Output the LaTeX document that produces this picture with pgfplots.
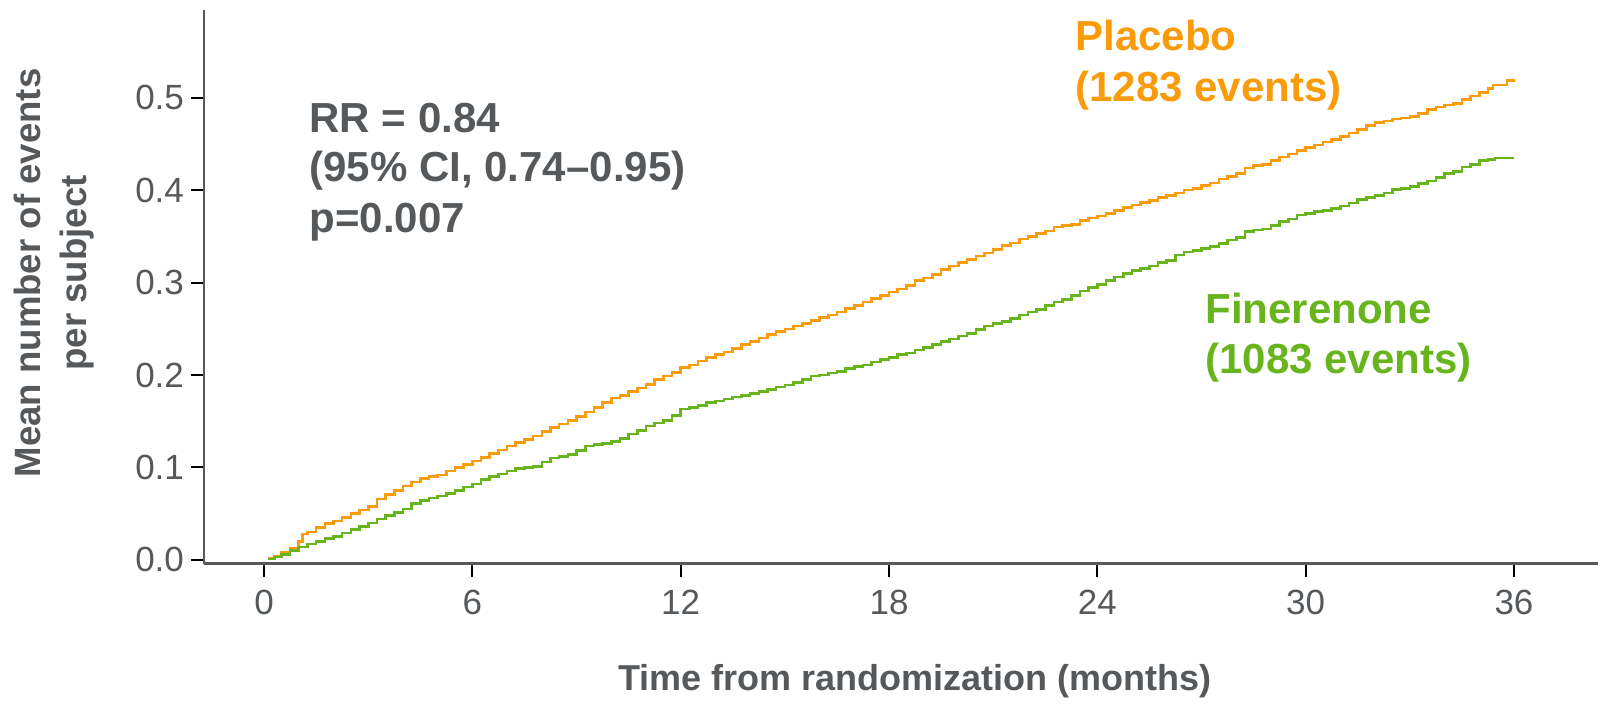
\documentclass[border=0pt]{standalone}
\usepackage{fontspec}
\setmainfont{Liberation Sans}
\usepackage{pgfplots}
\pgfplotsset{compat=1.18}
\definecolor{txtgray}{RGB}{85,89,92}
\definecolor{plorange}{RGB}{250,155,10}
\definecolor{fingreen}{RGB}{104,180,28}
\begin{document}
\begin{tikzpicture}
\begin{axis}[
 at={(0,0)}, anchor=south west, scale only axis,
 width=697pt, height=276.75pt,
 xmin=-1.73, xmax=38.42, ymin=-0.004, ymax=0.595,
 axis x line*=bottom, axis y line*=left,
 axis line style={-, draw=txtgray, line width=1.3pt},
 xtick={0,6,12,18,24,30,36}, ytick={0,0.1,0.2,0.3,0.4,0.5},
 tick align=outside, major tick length=6.5pt,
 tick style={black, line width=1pt},
 /pgf/number format/assume math mode=true,
 yticklabel style={/pgf/number format/fixed, /pgf/number format/precision=1, /pgf/number format/fixed zerofill},
 xticklabel style={yshift=-3pt},
 ticklabel style={font=\fontsize{17.5}{20}\selectfont, text=txtgray},
 xlabel={Time from randomization (months)},
 ylabel={Mean number of events\\per subject},
 xlabel style={at={(axis description cs:0.51,-0.2123)}, anchor=center, font=\fontsize{18}{22}\selectfont\bfseries, text=txtgray},
 ylabel style={at={(axis description cs:-0.1076,0.5249)}, anchor=center, align=center, font=\fontsize{18.3}{23}\selectfont\bfseries, text=txtgray},
 clip=false,
]
\addplot[const plot, plorange, line width=1.3pt] coordinates {
(0.10,0.002) (0.30,0.004) (0.50,0.008) (0.75,0.012) (1.00,0.020) (1.10,0.028) (1.25,0.030) (1.50,0.035) (1.75,0.039)
(2.00,0.042) (2.25,0.046) (2.50,0.050) (2.75,0.054) (3.00,0.058) (3.25,0.066) (3.50,0.071) (3.75,0.075)
(4.00,0.080) (4.25,0.084) (4.50,0.088) (4.75,0.090) (5.00,0.092) (5.25,0.096) (5.50,0.100) (5.75,0.103)
(6.00,0.107) (6.25,0.111) (6.50,0.115) (6.75,0.119) (7.00,0.123) (7.25,0.127) (7.50,0.130) (7.75,0.134)
(8.00,0.139) (8.25,0.143) (8.50,0.147) (8.75,0.151) (9.00,0.155) (9.25,0.160) (9.50,0.165) (9.75,0.170)
(10.00,0.175) (10.25,0.178) (10.50,0.182) (10.75,0.186) (11.00,0.190) (11.25,0.195) (11.50,0.199) (11.75,0.203)
(12.00,0.208) (12.25,0.211) (12.50,0.215) (12.75,0.219) (13.00,0.222) (13.25,0.225) (13.50,0.229) (13.75,0.233)
(14.00,0.236) (14.25,0.240) (14.50,0.244) (14.75,0.247) (15.00,0.250) (15.25,0.253) (15.50,0.256) (15.75,0.259)
(16.00,0.262) (16.25,0.265) (16.50,0.268) (16.75,0.272) (17.00,0.275) (17.25,0.279) (17.50,0.283) (17.75,0.286)
(18.00,0.290) (18.25,0.293) (18.50,0.297) (18.75,0.302) (19.00,0.305) (19.25,0.309) (19.50,0.314) (19.75,0.318)
(20.00,0.322) (20.25,0.325) (20.50,0.329) (20.75,0.332) (21.00,0.336) (21.25,0.340) (21.50,0.343) (21.75,0.347)
(22.00,0.350) (22.25,0.353) (22.50,0.356) (22.75,0.360) (23.00,0.362) (23.25,0.363) (23.50,0.367) (23.75,0.370)
(24.00,0.372) (24.25,0.375) (24.50,0.378) (24.75,0.381) (25.00,0.384) (25.25,0.387) (25.50,0.389) (25.75,0.392)
(26.00,0.394) (26.25,0.397) (26.50,0.400) (26.75,0.402) (27.00,0.405) (27.25,0.408) (27.50,0.412) (27.75,0.415)
(28.00,0.418) (28.25,0.424) (28.50,0.427) (28.75,0.428) (29.00,0.432) (29.25,0.436) (29.50,0.439) (29.75,0.443)
(30.00,0.446) (30.25,0.449) (30.50,0.452) (30.75,0.455) (31.00,0.458) (31.25,0.462) (31.50,0.466) (31.75,0.470)
(32.00,0.473) (32.25,0.475) (32.50,0.477) (32.75,0.478) (33.00,0.480) (33.25,0.483) (33.50,0.487) (33.75,0.490)
(34.00,0.492) (34.25,0.494) (34.50,0.498) (34.75,0.502) (35.00,0.506) (35.25,0.510) (35.40,0.514) (35.80,0.519)
(36.00,0.520)
};
\addplot[const plot, fingreen, line width=1.3pt] coordinates {
(0.10,0.001) (0.30,0.003) (0.50,0.006) (0.75,0.010) (1.00,0.014) (1.25,0.017) (1.50,0.020) (1.75,0.023)
(2.00,0.025) (2.25,0.029) (2.50,0.033) (2.75,0.036) (3.00,0.040) (3.25,0.044) (3.50,0.048) (3.75,0.051)
(4.00,0.055) (4.25,0.061) (4.50,0.064) (4.75,0.067) (5.00,0.069) (5.25,0.072) (5.50,0.075) (5.75,0.079)
(6.00,0.082) (6.25,0.087) (6.50,0.090) (6.75,0.093) (7.00,0.096) (7.25,0.099) (7.50,0.100) (7.75,0.101)
(8.00,0.106) (8.25,0.110) (8.50,0.112) (8.75,0.114) (9.00,0.118) (9.25,0.123) (9.50,0.125) (9.75,0.126)
(10.00,0.128) (10.25,0.131) (10.50,0.136) (10.75,0.140) (11.00,0.145) (11.25,0.148) (11.50,0.151) (11.75,0.156)
(12.00,0.163) (12.25,0.165) (12.50,0.167) (12.75,0.170) (13.00,0.172) (13.25,0.174) (13.50,0.176) (13.75,0.178)
(14.00,0.180) (14.25,0.182) (14.50,0.184) (14.75,0.187) (15.00,0.189) (15.25,0.192) (15.50,0.195) (15.75,0.199)
(16.00,0.200) (16.25,0.202) (16.50,0.204) (16.75,0.207) (17.00,0.209) (17.25,0.211) (17.50,0.214) (17.75,0.217)
(18.00,0.219) (18.25,0.222) (18.50,0.224) (18.75,0.227) (19.00,0.230) (19.25,0.233) (19.50,0.236) (19.75,0.239)
(20.00,0.242) (20.25,0.245) (20.50,0.249) (20.75,0.253) (21.00,0.256) (21.25,0.258) (21.50,0.261) (21.75,0.265)
(22.00,0.268) (22.25,0.271) (22.50,0.275) (22.75,0.279) (23.00,0.282) (23.25,0.286) (23.50,0.291) (23.75,0.295)
(24.00,0.298) (24.25,0.302) (24.50,0.306) (24.75,0.310) (25.00,0.313) (25.25,0.315) (25.50,0.318) (25.75,0.322)
(26.00,0.324) (26.25,0.330) (26.50,0.333) (26.75,0.335) (27.00,0.337) (27.25,0.339) (27.50,0.342) (27.75,0.346)
(28.00,0.349) (28.25,0.355) (28.50,0.357) (28.75,0.358) (29.00,0.362) (29.25,0.366) (29.50,0.369) (29.75,0.373)
(30.00,0.375) (30.25,0.377) (30.50,0.378) (30.75,0.380) (31.00,0.383) (31.25,0.386) (31.50,0.390) (31.75,0.392)
(32.00,0.394) (32.25,0.397) (32.50,0.401) (32.75,0.402) (33.00,0.404) (33.25,0.407) (33.50,0.410) (33.75,0.414)
(34.00,0.418) (34.25,0.420) (34.50,0.425) (34.75,0.428) (35.00,0.432) (35.25,0.433) (35.45,0.435) (36.00,0.435)
};
\node[anchor=base west, font=\fontsize{21}{25}\selectfont\bfseries, text=txtgray, inner sep=0pt] at (axis cs:1.30,0.4628) {RR = 0.84};
\node[anchor=base west, font=\fontsize{21}{25}\selectfont\bfseries, text=txtgray, inner sep=0pt] at (axis cs:1.30,0.4090) {(95\% CI, 0.74–0.95)};
\node[anchor=base west, font=\fontsize{21}{25}\selectfont\bfseries, text=txtgray, inner sep=0pt] at (axis cs:1.30,0.3544) {p=0.007};
\node[anchor=base west, font=\fontsize{21}{25}\selectfont\bfseries, text=plorange, inner sep=0pt] at (axis cs:23.36,0.5507) {Placebo};
\node[anchor=base west, font=\fontsize{21}{25}\selectfont\bfseries, text=plorange, inner sep=0pt] at (axis cs:23.36,0.4957) {(1283 events)};
\node[anchor=base west, font=\fontsize{21}{25}\selectfont\bfseries, text=fingreen, inner sep=0pt] at (axis cs:27.10,0.2560) {Finerenone};
\node[anchor=base west, font=\fontsize{21}{25}\selectfont\bfseries, text=fingreen, inner sep=0pt] at (axis cs:27.10,0.2012) {(1083 events)};
\end{axis}
\pgfresetboundingbox
\useasboundingbox (-102pt,-69.75pt) rectangle (697pt,281.75pt);
\end{tikzpicture}
\end{document}
